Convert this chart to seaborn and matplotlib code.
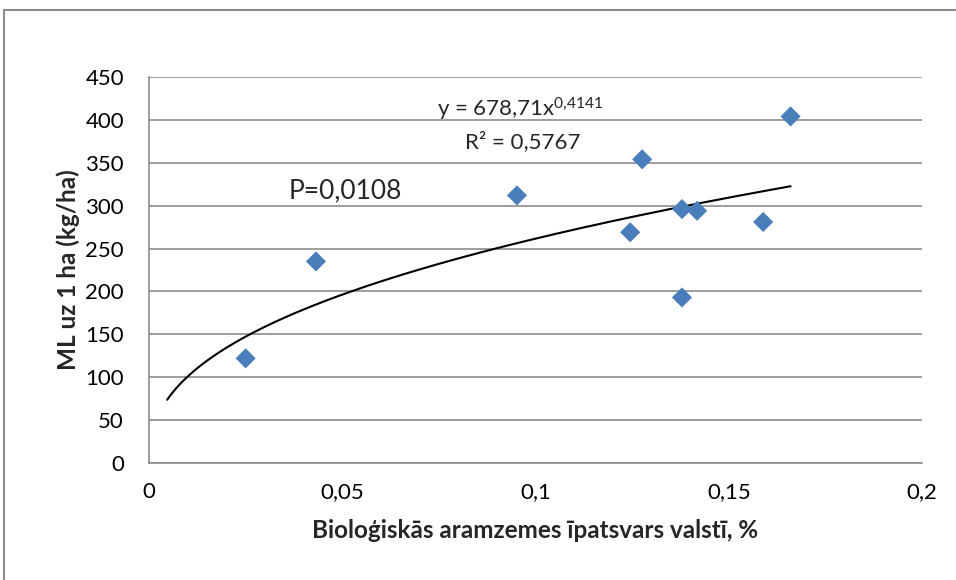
import numpy as np
import pandas as pd
import matplotlib
matplotlib.use('Agg')
import matplotlib.pyplot as plt
import seaborn as sns
from matplotlib.lines import Line2D

# data
share = [0.025, 0.0432, 0.0952, 0.1245, 0.1276, 0.1379, 0.1418, 0.1379, 0.1589, 0.1660]
ml_per_ha = [122, 235, 312, 269, 354, 296, 294, 193, 281, 404]

# power trendline from the chart label
coef_a = 678.71
coef_b = 0.4141
trend_start = 0.0047
trend_end = 0.166

x_ticks = [0, 0.05, 0.1, 0.15, 0.2]
x_tick_labels = ["0", "0,05", "0,1", "0,15", "0,2"]
y_ticks = [0, 50, 100, 150, 200, 250, 300, 350, 400, 450]

sns.set_theme(style="white")
plt.rcParams['font.family'] = ['Lato', 'DejaVu Sans']
plt.rcParams['mathtext.fontset'] = 'custom'
plt.rcParams['mathtext.rm'] = 'Lato'
plt.rcParams['mathtext.it'] = 'Lato'

GRID = "#8c8c8c"

df = pd.DataFrame({"share": share, "ml": ml_per_ha})
xs = np.linspace(trend_start, trend_end, 200)
trend = pd.DataFrame({"share": xs, "ml": coef_a * xs ** coef_b})

fig = plt.figure(figsize=(9.56, 5.8), dpi=100)
ax = fig.add_axes([149 / 956, 1 - 463 / 580, (922 - 149) / 956, (463 - 77) / 580])

sns.lineplot(data=trend, x="share", y="ml", ax=ax, color="black", linewidth=1.5, zorder=3)
sns.scatterplot(data=df, x="share", y="ml", ax=ax, marker="D", s=105,
                color="#4A7EBB", edgecolor="none", zorder=4)

ax.set_xlim(0, 0.2)
ax.set_ylim(0, 450)
ax.set_xticks(x_ticks)
ax.set_xticklabels(x_tick_labels)
ax.set_yticks(y_ticks)
ax.grid(axis="y", color=GRID, linewidth=1.2)
ax.set_axisbelow(True)
for side in ["top", "right"]:
    ax.spines[side].set_visible(False)
for side in ["left", "bottom"]:
    ax.spines[side].set_color(GRID)
    ax.spines[side].set_linewidth(1.2)
ax.tick_params(axis="both", which="major", direction="out", length=6, width=1.2,
               color=GRID, labelsize=16, labelcolor="black")
ax.tick_params(axis="x", pad=8)
ax.tick_params(axis="y", pad=12)

ax.set_xlabel("Bioloģiskās aramzemes īpatsvars valstī, %", fontsize=17.5,
              fontweight="bold", labelpad=12)
ax.set_ylabel("ML uz 1 ha (kg/ha)", fontsize=17.5, fontweight="bold", labelpad=4)

ax.text(0.096, 404.5, "y = 678,71x$^{0{,}4141}$", fontsize=16, ha="center", va="baseline")
ax.text(0.0966, 367, "R² = 0,5767", fontsize=16, ha="center", va="baseline")
ax.text(0.0507, 308, "P=0,0108", fontsize=19, ha="center", va="baseline")

# outer chart frame (top and left edges visible)
fig.add_artist(Line2D([4 / 956, 1], [1 - 10 / 580, 1 - 10 / 580], color="#8c8c8c",
                      linewidth=1.5, transform=fig.transFigure))
fig.add_artist(Line2D([4 / 956, 4 / 956], [0, 1 - 10 / 580], color="#8c8c8c",
                      linewidth=1.5, transform=fig.transFigure))

fig.savefig("out.png", dpi=100)
